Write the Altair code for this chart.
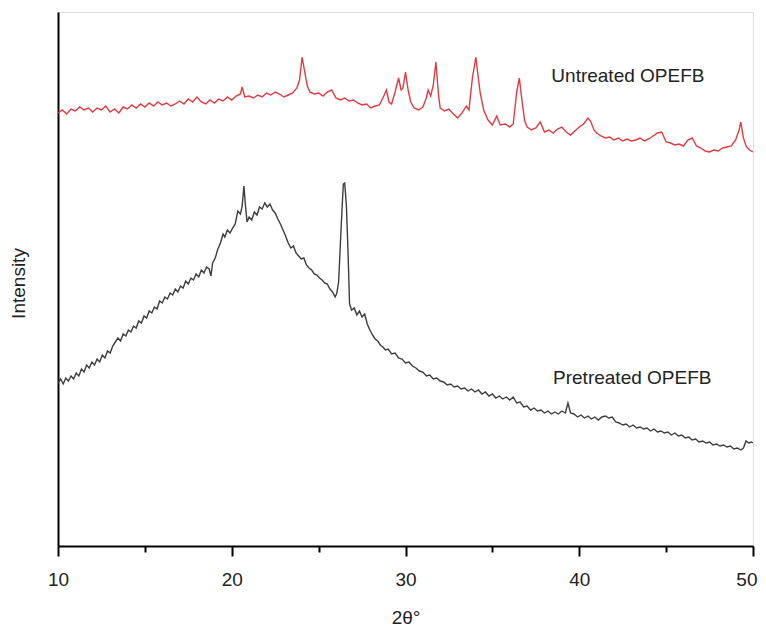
import altair as alt
import pandas as pd

# Untreated OPEFB (red) : 2theta (deg), intensity (arbitrary units)
untreated_theta = [10.0, 10.25, 10.5, 10.75, 11.0, 11.25, 11.5, 11.75, 12.0, 12.25, 12.5, 12.75, 13.0, 13.25, 13.5, 13.75,
                   14.0, 14.25, 14.5, 14.75, 15.0, 15.25, 15.5, 15.75, 16.0, 16.25, 16.5, 16.75, 17.0, 17.25, 17.5, 17.75,
                   18.0, 18.25, 18.5, 18.75, 19.0, 19.25, 19.5, 19.75, 20.0, 20.25, 20.5, 20.6, 20.75, 21.0, 21.25, 21.5,
                   21.75, 22.0, 22.25, 22.5, 22.75, 23.0, 23.25, 23.5, 23.75, 23.9, 24.05, 24.2, 24.35, 24.5, 24.75, 25.0,
                   25.25, 25.5, 25.75, 26.0, 26.25, 26.5, 26.75, 27.0, 27.25, 27.5, 27.75, 28.0, 28.25, 28.5, 28.75, 28.9,
                   29.05, 29.2, 29.4, 29.6, 29.75, 29.85, 30.0, 30.15, 30.3, 30.5, 30.75, 31.0, 31.2, 31.3, 31.45, 31.6,
                   31.75, 31.9, 32.0, 32.25, 32.5, 32.75, 33.0, 33.25, 33.5, 33.65, 33.85, 34.05, 34.15, 34.3, 34.5, 34.75,
                   35.0, 35.25, 35.45, 35.75, 36.0, 36.2, 36.4, 36.55, 36.7, 36.85, 37.0, 37.25, 37.5, 37.75, 38.0, 38.25,
                   38.5, 38.75, 39.0, 39.25, 39.5, 39.75, 40.0, 40.25, 40.5, 40.65, 40.85, 41.0, 41.25, 41.5, 41.75, 42.0,
                   42.25, 42.5, 42.75, 43.0, 43.25, 43.5, 43.75, 44.0, 44.25, 44.5, 44.75, 45.0, 45.25, 45.5, 45.75, 46.0,
                   46.25, 46.5, 46.75, 47.0, 47.25, 47.5, 47.75, 48.0, 48.25, 48.5, 48.75, 49.0, 49.2, 49.3, 49.45, 49.6,
                   49.8, 50.0]
untreated_int = [433, 436, 432, 437, 435, 439, 436, 438, 434, 438, 436, 440, 434, 437, 433, 439,
                 437, 441, 438, 442, 439, 443, 440, 444, 441, 443, 440, 442, 445, 442, 447, 444,
                 449, 444, 442, 446, 443, 447, 445, 449, 446, 450, 452, 459, 449, 450, 448, 451,
                 449, 453, 451, 454, 452, 449, 451, 453, 458, 466, 489, 474, 460, 454, 452, 453,
                 450, 454, 456, 448, 446, 448, 445, 446, 443, 441, 442, 438, 440, 441, 450, 456,
                 444, 442, 454, 468, 456, 458, 474, 456, 444, 438, 436, 439, 448, 456, 450, 461,
                 484, 451, 438, 435, 437, 432, 428, 433, 440, 436, 468, 489, 474, 453, 436, 426,
                 421, 430, 421, 422, 419, 422, 454, 468, 446, 426, 419, 416, 418, 424, 414, 416,
                 413, 417, 419, 414, 411, 415, 419, 422, 428, 425, 416, 413, 410, 408, 409, 406,
                 408, 405, 407, 405, 406, 408, 405, 407, 410, 413, 414, 404, 403, 401, 402, 400,
                 406, 408, 400, 398, 395, 394, 396, 395, 398, 399, 400, 406, 416, 424, 408, 400,
                 396, 394]

# Pretreated OPEFB (dark grey)
pretreated_theta = [10.0, 10.15, 10.3, 10.45, 10.6, 10.75, 10.9, 11.05, 11.2, 11.35, 11.5, 11.65, 11.8, 11.95, 12.1, 12.25,
                    12.4, 12.55, 12.7, 12.85, 13.0, 13.15, 13.3, 13.45, 13.6, 13.75, 13.9, 14.05, 14.2, 14.35, 14.5, 14.65,
                    14.8, 14.95, 15.1, 15.25, 15.4, 15.55, 15.7, 15.85, 16.0, 16.15, 16.3, 16.45, 16.6, 16.75, 16.9, 17.05,
                    17.2, 17.35, 17.5, 17.65, 17.8, 17.95, 18.1, 18.25, 18.4, 18.55, 18.7, 18.8, 18.9, 19.05, 19.2, 19.35,
                    19.5, 19.6, 19.75, 19.9, 20.05, 20.2, 20.35, 20.5, 20.6, 20.7, 20.78, 20.88, 21.0, 21.15, 21.3, 21.45,
                    21.6, 21.75, 21.9, 22.05, 22.2, 22.35, 22.5, 22.65, 22.8, 22.95, 23.1, 23.25, 23.4, 23.55, 23.7, 23.85,
                    24.0, 24.15, 24.3, 24.45, 24.6, 24.75, 24.9, 25.05, 25.2, 25.35, 25.5, 25.65, 25.8, 25.95, 26.05, 26.15,
                    26.3, 26.42, 26.5, 26.6, 26.7, 26.78, 26.9, 27.05, 27.2, 27.35, 27.5, 27.65, 27.8, 27.95, 28.1, 28.25,
                    28.4, 28.55, 28.7, 28.85, 29.0, 29.2, 29.4, 29.6, 29.8, 30.0, 30.2, 30.4, 30.6, 30.8, 31.0, 31.2,
                    31.4, 31.6, 31.8, 32.0, 32.2, 32.4, 32.6, 32.8, 33.0, 33.2, 33.4, 33.6, 33.8, 34.0, 34.2, 34.4,
                    34.6, 34.8, 35.0, 35.2, 35.4, 35.6, 35.8, 36.0, 36.2, 36.4, 36.6, 36.8, 37.0, 37.2, 37.4, 37.6,
                    37.8, 38.0, 38.2, 38.4, 38.6, 38.8, 39.0, 39.2, 39.35, 39.5, 39.7, 39.9, 40.1, 40.3, 40.5, 40.7,
                    40.9, 41.1, 41.3, 41.5, 41.7, 41.9, 42.1, 42.3, 42.5, 42.7, 42.9, 43.1, 43.3, 43.5, 43.7, 43.9,
                    44.1, 44.3, 44.5, 44.7, 44.9, 45.1, 45.3, 45.5, 45.7, 45.9, 46.1, 46.3, 46.5, 46.7, 46.9, 47.1,
                    47.3, 47.5, 47.7, 47.9, 48.1, 48.3, 48.5, 48.7, 48.9, 49.1, 49.3, 49.45, 49.6, 49.75, 49.9, 50.0]
pretreated_int = [163, 167, 162, 168, 165, 170, 167, 173, 170, 177, 174, 181, 178, 184, 181, 187,
                  184, 191, 188, 195, 193, 200, 204, 208, 205, 212, 210, 216, 214, 220, 218, 225,
                  223, 230, 228, 235, 233, 239, 237, 245, 243, 249, 247, 253, 251, 257, 254, 260,
                  258, 265, 262, 268, 266, 272, 269, 276, 273, 279, 277, 270, 283, 288, 297, 303,
                  312, 309, 316, 313, 318, 322, 335, 332, 340, 360, 342, 324, 329, 326, 334, 331,
                  339, 337, 343, 339, 342, 336, 333, 327, 322, 316, 310, 303, 298, 300, 293, 290,
                  287, 288, 281, 278, 276, 272, 271, 268, 266, 263, 262, 257, 254, 249, 253, 264,
                  320, 362, 363, 340, 290, 242, 236, 238, 231, 235, 229, 232, 222, 216, 211, 207,
                  205, 201, 199, 196, 197, 192, 193, 188, 187, 183, 184, 180, 178, 175, 174, 170,
                  171, 167, 168, 165, 164, 161, 162, 159, 160, 157, 158, 155, 157, 154, 156, 152,
                  154, 150, 152, 148, 150, 147, 149, 146, 149, 143, 144, 139, 140, 136, 138, 135,
                  136, 133, 135, 132, 134, 132, 135, 133, 143, 133, 132, 129, 131, 128, 130, 127,
                  129, 126, 129, 130, 128, 129, 124, 123, 121, 122, 119, 121, 118, 119, 117, 118,
                  115, 117, 114, 115, 113, 114, 111, 113, 110, 111, 108, 109, 106, 107, 104, 105,
                  103, 104, 101, 102, 100, 101, 99, 100, 97, 98, 96, 98, 105, 103, 104, 103]

series_names = ["Untreated OPEFB", "Pretreated OPEFB"]
series_colors = ["#e23a43", "#3d3d3d"]
label_theta = [42.8, 43.05]
label_int = [470, 168]

x_ticks = [10, 15, 20, 25, 30, 35, 40, 45, 50]

df = pd.concat([
    pd.DataFrame({"theta": untreated_theta, "intensity": untreated_int, "series": series_names[0]}),
    pd.DataFrame({"theta": pretreated_theta, "intensity": pretreated_int, "series": series_names[1]}),
], ignore_index=True)
labels_df = pd.DataFrame({"theta": label_theta, "intensity": label_int, "text": series_names})

FONT = "Liberation Sans"

x_scale = alt.Scale(domain=[10, 50], nice=False, zero=False)
y_scale = alt.Scale(domain=[0, 534], nice=False, zero=True)

lines = alt.Chart(df).mark_line(strokeWidth=1.4, clip=True).encode(
    x=alt.X("theta:Q", scale=x_scale,
            axis=alt.Axis(title="2θ°", values=x_ticks, grid=False, labelFlush=False,
                          labelExpr="datum.value % 10 == 0 ? datum.label : ''",
                          labelAlign={"condition": {"test": "datum.value >= 50", "value": "right"}, "value": "center"},
                          labelOffset={"condition": {"test": "datum.value >= 50", "value": 4}, "value": 0},
                          tickSize={"condition": {"test": "datum.value % 10 != 0", "value": 6}, "value": 10},
                          tickWidth=2, tickColor="#000", domainColor="#000", domainWidth=2,
                          labelFont=FONT, labelFontSize=19, labelColor="#222", labelPadding=14,
                          titleFont=FONT, titleFontSize=19, titleFontWeight="normal", titleColor="#222",
                          titleY=71, titleBaseline="middle")),
    y=alt.Y("intensity:Q", scale=y_scale,
            axis=alt.Axis(title="Intensity", ticks=False, labels=False, grid=False,
                          domainColor="#000", domainWidth=2,
                          titleFont=FONT, titleFontSize=19, titleFontWeight="normal", titleColor="#222",
                          titleX=-40, titleY=271, titleAngle=270, titleAlign="center",
                          titleBaseline="middle")),
    color=alt.Color("series:N", scale=alt.Scale(domain=series_names, range=series_colors), legend=None),
    detail="series:N",
)

texts = alt.Chart(labels_df).mark_text(font=FONT, fontSize=19, color="#222", align="center",
                                        baseline="middle").encode(
    x=alt.X("theta:Q", scale=x_scale),
    y=alt.Y("intensity:Q", scale=y_scale),
    text="text:N",
)

chart = alt.layer(lines, texts).properties(
    width=695, height=534,
    autosize=alt.AutoSizeParams(type="none"),
    padding={"left": 50, "top": 4, "right": 5, "bottom": 80},
).configure_view(stroke=None).configure(background="white")

chart.save("out.html", embed_options={"renderer": "svg", "actions": False})
